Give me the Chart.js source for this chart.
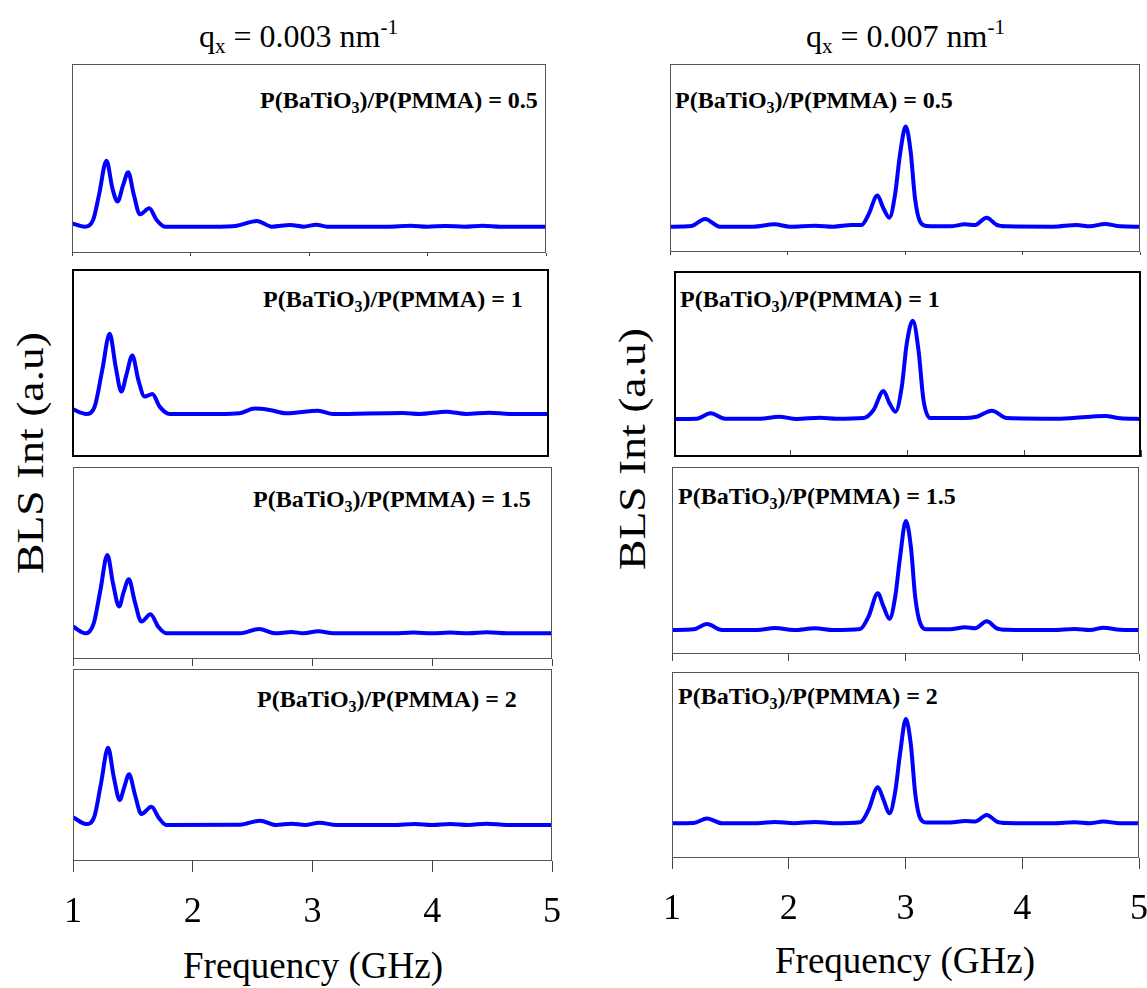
<!DOCTYPE html>
<html>
<head>
<meta charset="utf-8">
<script src="https://cdn.jsdelivr.net/npm/chart.js@4.4.0/dist/chart.umd.min.js"></script>
<style>
  html, body { margin: 0; padding: 0; background: #fff; overflow: hidden; }
  body { width: 1147px; height: 988px; position: relative; font-family: 'Liberation Serif', 'Times New Roman', serif; color: #000; }
  canvas { position: absolute; }
  .txt { position: absolute; white-space: nowrap; line-height: 1; }
  .lbl { font-weight: bold; font-size: 24px; }
  .lbl sub { font-size: 16px; vertical-align: -5px; line-height: 0; }
  .title { font-size: 32px; }
  .title sub { font-size: 21px; vertical-align: -6px; line-height: 0; }
  .title sup { font-size: 21px; vertical-align: 13px; line-height: 0; }
  .axis { font-size: 37px; }
  .ylab { font-size: 38px; transform-origin: center; }
</style>
</head>
<body>

<div class="txt title" style="left:199px; top:20px;">q<sub>x</sub> = 0.003 nm<sup>-1</sup></div>
<div class="txt title" style="left:806px; top:20px;">q<sub>x</sub> = 0.007 nm<sup>-1</sup></div>

<div class="txt axis ylab" style="left:30px; top:453px; transform: translate(-50%,-50%) rotate(-90deg) scaleX(1.2);">BLS Int (a.u)</div>
<div class="txt axis ylab" style="left:632px; top:449px; transform: translate(-50%,-50%) rotate(-90deg) scaleX(1.2);">BLS Int (a.u)</div>

<div class="txt axis" style="left:313px; top:947px; transform: translateX(-50%);">Frequency (GHz)</div>
<div class="txt axis" style="left:905px; top:942px; transform: translateX(-50%);">Frequency (GHz)</div>

<div class="txt lbl" style="left:260px; top:88px;">P(BaTiO<sub>3</sub>)/P(PMMA) = 0.5</div>
<div class="txt lbl" style="left:263px; top:287px;">P(BaTiO<sub>3</sub>)/P(PMMA) = 1</div>
<div class="txt lbl" style="left:253px; top:487px;">P(BaTiO<sub>3</sub>)/P(PMMA) = 1.5</div>
<div class="txt lbl" style="left:257px; top:687px;">P(BaTiO<sub>3</sub>)/P(PMMA) = 2</div>
<div class="txt lbl" style="left:675px; top:88px;">P(BaTiO<sub>3</sub>)/P(PMMA) = 0.5</div>
<div class="txt lbl" style="left:680px; top:287px;">P(BaTiO<sub>3</sub>)/P(PMMA) = 1</div>
<div class="txt lbl" style="left:678px; top:484px;">P(BaTiO<sub>3</sub>)/P(PMMA) = 1.5</div>
<div class="txt lbl" style="left:678px; top:684px;">P(BaTiO<sub>3</sub>)/P(PMMA) = 2</div>

<script>
// frequency axis ticks (GHz)
const freqTicks = [1, 2, 3, 4, 5];

// q_x = 0.003 nm^-1, ratio 0.5
const f003_05 = [1.000, 1.107, 1.178, 1.228, 1.291, 1.341, 1.384, 1.432, 1.474, 1.522, 1.573, 1.652, 1.714, 1.784, 2.193, 2.391, 2.560, 2.687, 2.842, 2.955, 3.062, 3.152, 3.660, 3.858, 3.999, 4.154, 4.309, 4.464, 4.619, 5.000];
const i003_05 = [0.033, 0, 0.067, 0.317, 0.657, 0.383, 0.25, 0.417, 0.543, 0.317, 0.123, 0.183, 0.067, 0, 0, 0.01, 0.057, 0, 0.017, 0, 0.02, 0, 0, 0.01, 0, 0.007, 0, 0.01, 0, 0];

// q_x = 0.003, ratio 1
const f003_1 = [1.0, 1.12, 1.19, 1.254, 1.316, 1.366, 1.414, 1.456, 1.506, 1.556, 1.609, 1.674, 1.735, 1.819, 2.238, 2.406, 2.532, 2.658, 2.797, 3.063, 3.189, 3.776, 3.915, 4.139, 4.307, 4.502, 4.67, 5.0];
const i003_1 = [0.05, 0, 0.073, 0.44, 0.80, 0.473, 0.223, 0.39, 0.583, 0.34, 0.173, 0.20, 0.073, 0, 0, 0.007, 0.053, 0.04, 0.007, 0.033, 0, 0.01, 0, 0.023, 0, 0.013, 0, 0];

// q_x = 0.003, ratio 1.5
const f003_15 = [1.0, 1.106, 1.173, 1.229, 1.287, 1.334, 1.385, 1.424, 1.466, 1.516, 1.571, 1.647, 1.711, 1.78, 2.394, 2.555, 2.686, 2.826, 2.923, 3.049, 3.174, 3.676, 3.843, 3.997, 4.15, 4.303, 4.456, 4.624, 5.0];
const i003_15 = [0.067, 0, 0.1, 0.433, 0.783, 0.5, 0.267, 0.417, 0.54, 0.317, 0.117, 0.19, 0.067, 0, 0, 0.043, 0, 0.013, 0, 0.02, 0, 0, 0.007, 0, 0.007, 0, 0.01, 0, 0];

// q_x = 0.003, ratio 2
const f003_2 = [1.0, 1.111, 1.178, 1.234, 1.293, 1.34, 1.39, 1.429, 1.468, 1.518, 1.571, 1.655, 1.719, 1.78, 2.394, 2.561, 2.695, 2.826, 2.937, 3.057, 3.202, 3.676, 3.857, 3.997, 4.15, 4.303, 4.451, 4.624, 5.0];
const i003_2 = [0.077, 0.01, 0.083, 0.417, 0.773, 0.483, 0.25, 0.383, 0.507, 0.3, 0.11, 0.183, 0.067, 0, 0.003, 0.043, 0, 0.013, 0, 0.023, 0, 0, 0.01, 0, 0.01, 0, 0.013, 0, 0];

// q_x = 0.007, ratio 0.5
const f007_05 = [1.0, 1.184, 1.298, 1.426, 1.709, 1.888, 2.021, 2.234, 2.39, 2.546, 2.631, 2.688, 2.765, 2.816, 2.867, 2.915, 2.957, 3.006, 3.048, 3.085, 3.128, 3.184, 3.383, 3.511, 3.596, 3.695, 3.78, 3.865, 4.262, 4.461, 4.574, 4.702, 4.83, 5.0];
const i007_05 = [0, 0.007, 0.077, 0, 0, 0.023, 0, 0.01, 0, 0.017, 0.017, 0.117, 0.31, 0.183, 0.09, 0.317, 0.717, 1.0, 0.75, 0.283, 0.05, 0.007, 0.003, 0.023, 0.017, 0.09, 0.017, 0.003, 0, 0.017, 0.003, 0.027, 0.003, 0];

// q_x = 0.007, ratio 1
const f007_1 = [1.0, 1.194, 1.314, 1.437, 1.737, 1.9, 2.051, 2.251, 2.394, 2.623, 2.709, 2.794, 2.846, 2.897, 2.951, 2.994, 3.046, 3.094, 3.137, 3.194, 3.451, 3.594, 3.723, 3.851, 4.309, 4.694, 4.823, 5.0];
const i007_1 = [0, 0.003, 0.057, 0.003, 0.003, 0.023, 0, 0.013, 0.003, 0.01, 0.09, 0.28, 0.157, 0.073, 0.323, 0.757, 0.983, 0.69, 0.19, 0.01, 0.01, 0.023, 0.083, 0.01, 0.003, 0.03, 0.007, 0];

// q_x = 0.007, ratio 1.5
const f007_15 = [1.0, 1.185, 1.3, 1.428, 1.728, 1.884, 2.041, 2.227, 2.384, 2.612, 2.683, 2.763, 2.812, 2.863, 2.912, 2.954, 3.003, 3.046, 3.083, 3.126, 3.183, 3.382, 3.511, 3.596, 3.696, 3.782, 3.867, 4.267, 4.452, 4.58, 4.695, 4.837, 5.0];
const i007_15 = [0, 0.007, 0.06, 0, 0, 0.02, 0, 0.017, 0, 0.01, 0.133, 0.367, 0.233, 0.11, 0.333, 0.733, 1.09, 0.833, 0.333, 0.067, 0.007, 0.007, 0.027, 0.017, 0.087, 0.017, 0.003, 0, 0.01, 0, 0.023, 0.003, 0];

// q_x = 0.007, ratio 2
const f007_2 = [1.0, 1.185, 1.3, 1.428, 1.728, 1.884, 2.041, 2.227, 2.384, 2.612, 2.683, 2.763, 2.812, 2.863, 2.912, 2.954, 3.003, 3.046, 3.083, 3.126, 3.183, 3.382, 3.511, 3.596, 3.696, 3.782, 3.867, 4.267, 4.452, 4.58, 4.695, 4.837, 5.0];
const i007_2 = [0, 0.003, 0.047, 0, 0, 0.013, 0, 0.013, 0, 0.01, 0.133, 0.36, 0.233, 0.1, 0.317, 0.7, 1.04, 0.783, 0.3, 0.05, 0.007, 0.007, 0.023, 0.017, 0.083, 0.017, 0.003, 0, 0.01, 0, 0.017, 0, 0];

// panel layout: frame box [left, top, width, height], intensity range, frame style, tick length
const panels = [
  { f: f003_05, v: i003_05, box: [72, 64, 474, 189], yMin: -0.263, yMax: 1.624, frameColor: '#555', frameWidth: 1, tick: 3, labels: false },
  { f: f003_1,  v: i003_1,  box: [72, 269, 477, 188], yMin: -0.43,  yMax: 1.447, frameColor: '#000', frameWidth: 2, tick: 0, labels: false },
  { f: f003_15, v: i003_15, box: [73, 467, 479, 192], yMin: -0.257, yMax: 1.663, frameColor: '#555', frameWidth: 1, tick: 7, labels: false },
  { f: f003_2,  v: i003_2,  box: [73, 669, 479, 192], yMin: -0.36,  yMax: 1.56,  frameColor: '#555', frameWidth: 1, tick: 11, labels: true },
  { f: f007_05, v: i007_05, box: [670, 64, 470, 188], yMin: -0.253, yMax: 1.624, frameColor: '#555', frameWidth: 1, tick: 3, labels: false },
  { f: f007_1,  v: i007_1,  box: [674, 271, 467, 186], yMin: -0.38,  yMax: 1.48,  frameColor: '#000', frameWidth: 2, tick: -7, labels: false },
  { f: f007_15, v: i007_15, box: [672, 467, 467, 187], yMin: -0.24,  yMax: 1.63,  frameColor: '#555', frameWidth: 1, tick: 7, labels: false },
  { f: f007_2,  v: i007_2,  box: [672, 672, 467, 186], yMin: -0.347, yMax: 1.51,  frameColor: '#555', frameWidth: 1, tick: 11, labels: true }
];

const SIDE = 40; // horizontal padding around each plot area (room for edge tick labels)

// draws the box round the plot area
const framePlugin = {
  id: 'frame',
  afterDatasetsDraw(chart, args, opts) {
    const { ctx, chartArea: a } = chart;
    const w = opts.width;
    ctx.save();
    ctx.strokeStyle = opts.color;
    ctx.lineWidth = w;
    ctx.strokeRect(a.left + w / 2, a.top + w / 2, a.right - a.left - w, a.bottom - a.top - w);
    ctx.restore();
  }
};

panels.forEach(p => {
  const [left, top, width, height] = p.box;
  const axisH = p.labels ? 80 : 12;
  const canvas = document.createElement('canvas');
  canvas.width = width + 2 * SIDE;
  canvas.height = height + axisH;
  canvas.style.left = (left - SIDE) + 'px';
  canvas.style.top = top + 'px';
  document.body.appendChild(canvas);

  new Chart(canvas.getContext('2d'), {
    type: 'line',
    data: {
      datasets: [{
        data: p.f.map((x, i) => ({ x: x, y: p.v[i] })),
        borderColor: '#0000ff',
        borderWidth: 4,
        pointRadius: 0,
        fill: false,
        cubicInterpolationMode: 'monotone',
        borderCapStyle: 'round',
        borderJoinStyle: 'round'
      }]
    },
    options: {
      responsive: false,
      animation: false,
      events: [],
      layout: { padding: { left: SIDE, right: SIDE, top: 0, bottom: 0 } },
      plugins: {
        legend: { display: false },
        tooltip: { enabled: false },
        frame: { color: p.frameColor, width: p.frameWidth }
      },
      scales: {
        x: {
          type: 'linear',
          min: 1,
          max: 5,
          afterBuildTicks: s => { s.ticks = freqTicks.map(v => ({ value: v })); },
          afterFit: s => { s.height = axisH; },
          border: { display: false },
          grid: {
            display: p.tick !== 0,
            drawOnChartArea: false,
            drawTicks: true,
            tickLength: p.tick,
            color: '#444',
            lineWidth: 1
          },
          ticks: {
            display: p.labels,
            padding: 19,
            color: '#000',
            maxRotation: 0,
            font: { family: "'Liberation Serif', 'Times New Roman', serif", size: 36 }
          }
        },
        y: {
          display: false,
          min: p.yMin,
          max: p.yMax
        }
      }
    },
    plugins: [framePlugin]
  });
});
</script>
</body>
</html>
